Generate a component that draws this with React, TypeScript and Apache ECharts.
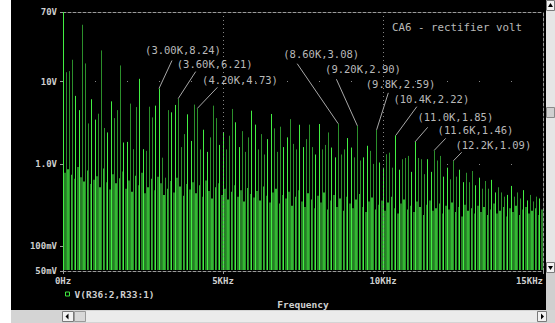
import React, { useEffect, useRef } from "react";
import * as echarts from "echarts";

// ---------- data ----------
const BIN_HZ = 100; // FFT line spacing
// harmonic peaks at 0, 100, 200 ... 14900 Hz (V)
const peakValues = [
  80, 13.0, 13.4, 18.4, 6.7, 4.5, 49, 16.6, 3.1, 6.1,
  3.45, 4.07, 23.9, 2.73, 2.41, 5.75, 3.6, 4.5, 15.7, 1.82,
  1.85, 5.4, 1.51, 4.9, 10.8, 1.51, 1.44, 4.95, 3.67, 5.1,
  8.24, 1.19, 0.68, 4.5, 4.23, 5.2, 6.21, 1.6, 2.3, 4.0,
  1.9, 5.25, 4.73, 1.5, 2.6, 1.4, 2.1, 5.1, 3.6, 1.7,
  2.4, 1.5, 2.2, 4.65, 3.2, 1.6, 2.5, 1.4, 2.1, 4.43,
  3.0, 1.5, 2.3, 1.3, 2.0, 4.04, 2.7, 1.4, 2.83, 1.6,
  2.1, 3.5, 1.75, 1.5, 2.99, 1.6, 2.0, 3.0, 1.6, 1.3,
  3.05, 1.5, 1.7, 2.41, 1.58, 1.2, 3.08, 1.3, 1.5, 2.06,
  1.58, 1.2, 2.9, 1.1, 1.2, 1.66, 1.44, 1.0, 2.59, 1.04,
  0.9, 1.31, 1.37, 0.9, 2.22, 0.85, 1.14, 1.18, 1.25, 0.8,
  1.85, 1.18, 1.14, 0.75, 1.14, 0.8, 1.46, 1.1, 1.25, 0.7,
  0.9, 0.65, 1.09, 0.7, 0.85, 0.6, 0.78, 0.6, 0.82, 0.55,
  0.68, 0.5, 0.62, 0.5, 0.64, 0.45, 0.52, 0.45, 0.4, 0.42,
  0.54, 0.4, 0.45, 0.38, 0.48, 0.36, 0.42, 0.35, 0.4, 0.38,
];
// in-between lines at 50, 150, 250 ... 14950 Hz (V)
const sidebandValues = [
  0.78, 0.86, 0.74, 0.66, 0.92, 0.69, 0.61, 0.83, 0.57, 0.64,
  0.71, 0.52, 0.88, 0.6, 0.49, 0.75, 0.58, 0.67, 0.81, 0.5,
  0.63, 0.46, 0.72, 0.55, 0.78, 0.44, 0.52, 0.66, 0.48, 0.7,
  0.58, 0.42, 0.5, 0.62, 0.45, 0.68, 0.53, 0.41, 0.57, 0.49,
  0.6, 0.44, 0.55, 0.4, 0.63, 0.47, 0.38, 0.52, 0.58, 0.42,
  0.5, 0.37, 0.46, 0.55, 0.4, 0.48, 0.35, 0.51, 0.43, 0.39,
  0.47, 0.36, 0.53, 0.41, 0.34, 0.45, 0.5, 0.33, 0.42, 0.38,
  0.46, 0.31, 0.4, 0.48, 0.35, 0.3, 0.44, 0.37, 0.29, 0.41,
  0.34, 0.45, 0.28, 0.36, 0.42, 0.3, 0.38, 0.27, 0.4, 0.33,
  0.29, 0.37, 0.43, 0.3, 0.26, 0.35, 0.39, 0.28, 0.32, 0.36,
  0.27, 0.34, 0.4, 0.29, 0.25, 0.33, 0.37, 0.28, 0.31, 0.26,
  0.35, 0.3, 0.24, 0.32, 0.36, 0.27, 0.29, 0.33, 0.25, 0.31,
  0.28, 0.34, 0.26, 0.3, 0.23, 0.32, 0.27, 0.29, 0.25, 0.31,
  0.26, 0.3, 0.24, 0.28, 0.33, 0.25, 0.27, 0.3, 0.23, 0.29,
  0.26, 0.31, 0.24, 0.28, 0.3, 0.25, 0.27, 0.29, 0.24, 0.28,
];
const annFreqs = [3000, 3600, 4200, 8600, 9200, 9800, 10400, 11000, 11600, 12200];
const annValues = [8.24, 6.21, 4.73, 3.08, 2.9, 2.59, 2.22, 1.85, 1.46, 1.09];
const annLabels = [
  "(3.00K,8.24)", "(3.60K,6.21)", "(4.20K,4.73)", "(8.60K,3.08)", "(9.20K,2.90)",
  "(9.8K,2.59)", "(10.4K,2.22)", "(11.0K,1.85)", "(11.6K,1.46)", "(12.2K,1.09)",
];
const xTickValues = [0, 5000, 10000, 15000];
const xTickLabels = ["0Hz", "5KHz", "10KHz", "15KHz"];
const yTickValues = [0.05, 0.1, 1, 10, 70];
const yTickLabels = ["50mV", "100mV", "1.0V", "10V", "70V"];
const seriesName = "V(R36:2,R33:1)";
const titleText = "CA6 - rectifier volt";
const xAxisName = "Frequency";

// ---------- layout / style ----------
const X_MIN = 0;
const X_MAX = 15000;
const Y_MIN = 0.05;
const Y_MAX = 70;
// [labelCenterDx, labelCenterDy, leaderEndDx, leaderEndDy] relative to marked point
const ANN_LAYOUT = [
  [24, -38, 13, -28],
  [36.5, -34.4, 17.5, -27],
  [42.6, -28.4, 20, -21],
  [-17, -69.7, -41, -60],
  [5.6, -56.6, -21, -46.6],
  [23.9, -45.6, 11.7, -37],
  [35.5, -36.4, 21, -28.7],
  [40.3, -25.2, 12.7, -14.6],
  [41.3, -20.4, 11.5, -12],
  [39.9, -15.8, 8.3, -8.5],
];
const AXIS_GRAY = "#9a9a9a";
const GRID_GRAY = "#858585";
const LABEL_GRAY = "#cfcfcf";
const ANN_GRAY = "#b9b9b9";
const MONO = '"DejaVu Sans Mono", "Liberation Mono", monospace';

function spikeRenderer(width: number, bright: string, dark: string) {
  return (_params: any, api: any) => {
    const f = api.value(0);
    const v = api.value(1);
    const tip = api.coord([f, v]);
    const base = api.coord([f, Y_MIN]);
    const px = Math.floor(tip[0]);
    const phase = (tip[0] + 0.3) % 1;
    const xs = width === 1 ? px + 0.5 : px + width / 2;
    return {
      type: "line",
      shape: { x1: xs, y1: base[1] - 1, x2: xs, y2: tip[1] },
      style: { stroke: phase < 0.45 ? bright : dark, lineWidth: width },
    };
  };
}

function nearestLabel(val: number, values: number[], labels: string[], log: boolean) {
  let best = 0;
  let bestD = Infinity;
  values.forEach((tv, i) => {
    const d = log ? Math.abs(Math.log10(val) - Math.log10(tv)) : Math.abs(val - tv);
    if (d < bestD) {
      bestD = d;
      best = i;
    }
  });
  return labels[best];
}

function buildOption(): any {
  const peakData = peakValues.map((v, i) => [i * BIN_HZ, v]);
  const sideData = sidebandValues.map((v, i) => [i * BIN_HZ + BIN_HZ / 2, v]);
  const annData = annFreqs.map((f, i) => [f, annValues[i], i]);

  const dashed = { color: AXIS_GRAY, type: [3, 2], width: 1 };
  const labelFont = {
    color: LABEL_GRAY,
    fontFamily: MONO,
    fontWeight: "bold",
    fontSize: 9,
  };

  return {
    animation: false,
    backgroundColor: "#000",
    title: {
      text: titleText,
      left: 392,
      top: 22,
      padding: 0,
      textStyle: { color: ANN_GRAY, fontFamily: MONO, fontWeight: "normal", fontSize: 10.8 },
    },
    legend: {
      data: [{ name: seriesName, icon: "rect" }],
      left: 65,
      top: 289,
      padding: 0,
      itemWidth: 4,
      itemHeight: 4,
      itemGap: 10,
      itemStyle: { color: "transparent", borderColor: "#3fe63f", borderWidth: 1 },
      textStyle: { color: LABEL_GRAY, fontFamily: MONO, fontWeight: "bold", fontSize: 9.5 },
      selectedMode: false,
    },
    grid: { left: 63, right: 12, top: 12, bottom: 52, containLabel: false },
    xAxis: [
      {
        type: "value",
        min: X_MIN,
        max: X_MAX,
        interval: 5000,
        position: "bottom",
        z: 4,
        axisLine: { show: true, onZero: false, lineStyle: dashed },
        axisTick: { show: true, length: 3, inside: false, lineStyle: { color: AXIS_GRAY } },
        axisLabel: {
          ...labelFont,
          margin: 5,
          showMinLabel: true,
          showMaxLabel: true,
          alignMaxLabel: "right",
          formatter: (val: number) => nearestLabel(val, xTickValues, xTickLabels, false),
        },
        splitLine: {
          show: true,
          showMinLine: false,
          showMaxLine: false,
          lineStyle: { color: GRID_GRAY, type: [1, 3], width: 1 },
        },
        name: xAxisName,
        nameLocation: "middle",
        nameGap: 28,
        nameTextStyle: { color: LABEL_GRAY, fontFamily: MONO, fontWeight: "bold", fontSize: 9.5 },
      },
      {
        type: "value",
        min: X_MIN,
        max: X_MAX,
        position: "top",
        axisLine: { show: true, onZero: false, lineStyle: dashed },
        axisTick: { show: false },
        axisLabel: { show: false },
        splitLine: { show: false },
      },
    ],
    yAxis: [
      {
        type: "log",
        logBase: 10,
        min: Y_MIN,
        max: Y_MAX,
        position: "left",
        axisLine: { show: true, onZero: false, lineStyle: dashed },
        axisTick: { show: true, length: 3, inside: false, lineStyle: { color: AXIS_GRAY } },
        axisLabel: {
          ...labelFont,
          margin: 6,
          showMinLabel: true,
          showMaxLabel: true,
          formatter: (val: number) => nearestLabel(val, yTickValues, yTickLabels, true),
        },
        splitLine: {
          show: true,
          showMinLine: false,
          showMaxLine: false,
          lineStyle: { color: GRID_GRAY, type: [1, 31], width: 1 },
        },
      },
      {
        type: "log",
        logBase: 10,
        min: Y_MIN,
        max: Y_MAX,
        position: "right",
        axisLine: { show: true, onZero: false, lineStyle: dashed },
        axisTick: { show: false },
        axisLabel: { show: false },
        splitLine: { show: false },
      },
    ],
    series: [
      {
        name: seriesName,
        type: "custom",
        clip: true,
        xAxisIndex: 0,
        yAxisIndex: 0,
        data: sideData,
        encode: { x: 0, y: 1 },
        renderItem: spikeRenderer(2, "#33b833", "#267f26"),
        silent: true,
        z: 2,
      },
      {
        name: seriesName,
        type: "custom",
        clip: true,
        xAxisIndex: 0,
        yAxisIndex: 0,
        data: peakData,
        encode: { x: 0, y: 1 },
        renderItem: spikeRenderer(1, "#42ef42", "#2b8f2b"),
        silent: true,
        z: 3,
      },
      {
        name: "markers",
        type: "custom",
        xAxisIndex: 0,
        yAxisIndex: 0,
        data: annData,
        encode: { x: 0, y: 1 },
        silent: true,
        z: 5,
        renderItem: (_params: any, api: any) => {
          const p = api.coord([api.value(0), api.value(1)]);
          const idx = api.value(2);
          const [tdx, tdy, ldx, ldy] = ANN_LAYOUT[idx];
          return {
            type: "group",
            children: [
              {
                type: "line",
                shape: { x1: p[0], y1: p[1], x2: p[0] + ldx, y2: p[1] + ldy },
                style: { stroke: "#a8a8a8", lineWidth: 1 },
              },
              {
                type: "text",
                x: p[0] + tdx,
                y: p[1] + tdy,
                style: {
                  text: annLabels[idx],
                  fill: ANN_GRAY,
                  font: `normal 10.5px ${MONO}`,
                  align: "center",
                  verticalAlign: "middle",
                },
              },
            ],
          };
        },
      },
    ],
    graphic: [
      { type: "rect", silent: true, shape: { x: 0, y: 0, width: 11, height: 323 }, style: { fill: "#ffffff" } },
      // bottom scrollbar
      { type: "rect", silent: true, shape: { x: 11, y: 310, width: 544, height: 13 }, style: { fill: "#d4d4d4" } },
      { type: "rect", silent: true, shape: { x: 86, y: 311, width: 451, height: 11 }, style: { fill: "#ebebeb" } },
      { type: "rect", silent: true, shape: { x: 62.5, y: 311.5, width: 11, height: 10 }, style: { fill: "#f2f2f2", stroke: "#7a7a7a", lineWidth: 1 } },
      { type: "polygon", silent: true, shape: { points: [[65.5, 316.5], [68.5, 313.5], [68.5, 319.5]] }, style: { fill: "#000" } },
      { type: "rect", silent: true, shape: { x: 74.5, y: 311.5, width: 11, height: 10 }, style: { fill: "#d8d8d8", stroke: "#9a9a9a", lineWidth: 1 } },
      { type: "rect", silent: true, shape: { x: 537.5, y: 311.5, width: 9, height: 10 }, style: { fill: "#f2f2f2", stroke: "#7a7a7a", lineWidth: 1 } },
      { type: "polygon", silent: true, shape: { points: [[544, 316.5], [541, 313.5], [541, 319.5]] }, style: { fill: "#000" } },
      // right scrollbar
      { type: "rect", silent: true, shape: { x: 546, y: 0, width: 9, height: 310 }, style: { fill: "#e6e6e6" } },
      { type: "rect", silent: true, shape: { x: 546.5, y: 0.5, width: 8, height: 10 }, style: { fill: "#f2f2f2", stroke: "#7a7a7a", lineWidth: 1 } },
      { type: "polygon", silent: true, shape: { points: [[550.5, 3], [548, 7], [553, 7]] }, style: { fill: "#000" } },
      { type: "rect", silent: true, shape: { x: 546.5, y: 107.5, width: 8, height: 10 }, style: { fill: "#d0d0d0", stroke: "#8a8a8a", lineWidth: 1 } },
      { type: "rect", silent: true, shape: { x: 546.5, y: 262.5, width: 8, height: 10 }, style: { fill: "#f2f2f2", stroke: "#7a7a7a", lineWidth: 1 } },
      { type: "polygon", silent: true, shape: { points: [[550.5, 270], [548, 266], [553, 266]] }, style: { fill: "#000" } },
      { type: "rect", silent: true, shape: { x: 546, y: 273, width: 9, height: 37 }, style: { fill: "#cfcfcf" } },
    ],
  };
}

export default function App() {
  const ref = useRef<HTMLDivElement>(null);
  useEffect(() => {
    document.body.style.margin = "0";
    if (!ref.current) return;
    const chart = echarts.init(ref.current, undefined, { renderer: "svg" });
    chart.setOption(buildOption());
    return () => chart.dispose();
  }, []);
  return <div ref={ref} style={{ width: 555, height: 323 }} />;
}
